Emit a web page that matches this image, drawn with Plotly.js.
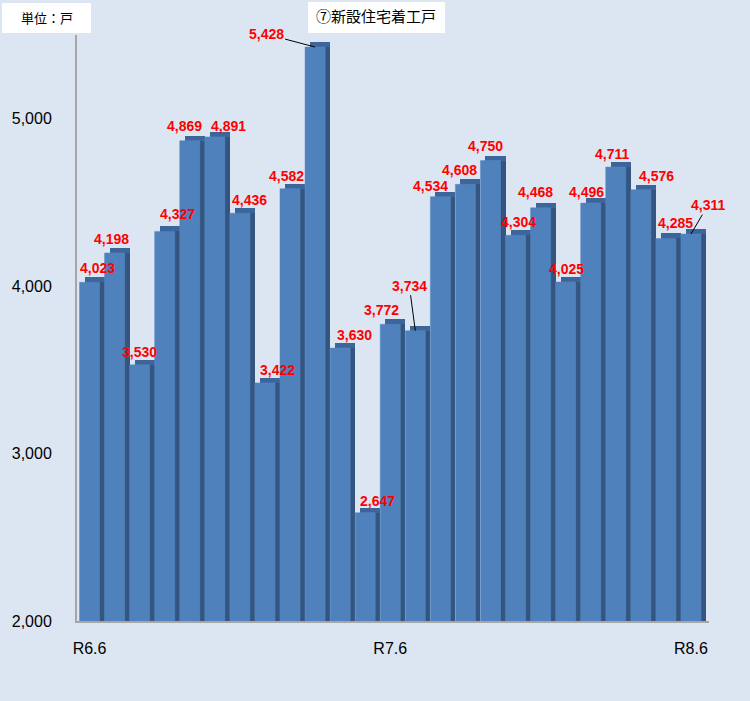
<!DOCTYPE html>
<html>
<head>
<meta charset="utf-8">
<script src="https://cdn.plot.ly/plotly-3.0.1.min.js"></script>
<style>
  html, body { margin: 0; padding: 0; background: #DCE6F2; }
  #chart { width: 750px; height: 701px; outline: 2px solid #8C8C8C; outline-offset: -2px; }
</style>
</head>
<body>
<div id="chart"></div>
<script>
// ---- data ----
const months = [
  "R6.6","R6.7","R6.8","R6.9","R6.10","R6.11","R6.12",
  "R7.1","R7.2","R7.3","R7.4","R7.5","R7.6","R7.7","R7.8","R7.9","R7.10","R7.11","R7.12",
  "R8.1","R8.2","R8.3","R8.4","R8.5","R8.6"
];
const starts = [
  4023, 4198, 3530, 4327, 4869, 4891, 4436,
  3422, 4582, 5428, 3630, 2647, 3772, 3734, 4534, 4608, 4750, 4304, 4468,
  4025, 4496, 4711, 4576, 4285, 4311
];
const shownTicks = ["R6.6", "R7.6", "R8.6"];
const chartTitle = "⑦新設住宅着工戸";
const unitLabel = "単位：戸";

// ---- styling (label placement, in pixels) ----
const labelDX = [8,-3,0,13,-5,14,10,13,-4,-49,14,12,-9,-6,-10,-6,-5,3,-5,1,-4,-4,16,10,17];
const labelDY = [-14,-14,-13,-17,-15,-11,-13,-13,-13,-13,-13,-12,-14,-45,-11,-14,-15,-13,-16,-13,-11,-13,-14,-15,-29];
const leader = [9, 13, 24];   // indices of labels drawn with a leader line

const DEPTH = 30;            // 3D depth in axis units (~5px)
const fmt = v => v.toLocaleString('en-US');

const sideTrace = {
  type: 'bar', x: months, y: starts, base: DEPTH,
  offset: -0.2, width: 0.8,
  marker: { color: '#33557F' }, hoverinfo: 'skip', showlegend: false
};
const topTrace = {
  type: 'bar', x: months, y: starts.map(() => DEPTH), base: starts,
  offset: -0.2, width: 0.8,
  marker: { color: '#3C659C' }, hoverinfo: 'skip', showlegend: false
};
const frontTrace = {
  type: 'bar', x: months, y: starts,
  offset: -0.4, width: 0.8,
  marker: { color: '#4F81BD', line: { color: '#5A8AC4', width: 0.5 } },
  hoverinfo: 'skip', showlegend: false
};

const annotations = starts.map((v, i) => {
  const a = {
    x: months[i], y: v, xref: 'x', yref: 'y',
    text: fmt(v),
    font: { family: 'Liberation Sans, Arial, sans-serif', size: 14, color: '#FF0000', weight: 'bold' }
  };
  if (leader.includes(i)) {
    a.showarrow = true; a.arrowhead = 0; a.arrowwidth = 1; a.arrowcolor = '#000000';
    a.ax = labelDX[i]; a.ay = labelDY[i];
  } else {
    a.showarrow = false; a.xshift = labelDX[i]; a.yshift = -labelDY[i];
    a.xanchor = 'center'; a.yanchor = 'middle';
  }
  return a;
});

annotations.push({
  text: unitLabel, xref: 'paper', yref: 'paper', x: -0.0475, y: 1.030,
  xanchor: 'center', yanchor: 'middle', showarrow: false,
  font: { family: 'Noto Sans CJK JP, sans-serif', size: 13, color: '#000000' }
});

const layout = {
  width: 750, height: 701,
  margin: { l: 77, r: 41, t: 35, b: 80 },
  paper_bgcolor: '#DCE6F2', plot_bgcolor: '#DCE6F2',
  barmode: 'overlay', bargap: 0,
  title: {
    text: chartTitle, xref: 'container', yref: 'container',
    x: 0.5013, y: 0.976, xanchor: 'center', yanchor: 'middle',
    font: { family: 'Noto Sans CJK JP, sans-serif', size: 15, color: '#000000' }
  },
  xaxis: {
    type: 'category', categoryorder: 'array', categoryarray: months,
    range: [-0.5, 24.72],
    tickmode: 'array', tickvals: shownTicks, ticktext: shownTicks,
    ticks: '', ticklabelstandoff: 12,
    tickfont: { family: 'Liberation Sans, Arial, sans-serif', size: 16, color: '#000000' },
    showline: true, linecolor: '#A6A6A6', linewidth: 2,
    showgrid: false, zeroline: false, fixedrange: true
  },
  yaxis: {
    range: [2000, 5500],
    tickmode: 'array', tickvals: [2000, 3000, 4000, 5000],
    tickformat: ',d', ticks: '', ticklabelstandoff: 20,
    tickfont: { family: 'Liberation Sans, Arial, sans-serif', size: 16, color: '#000000' },
    showline: true, linecolor: '#A6A6A6', linewidth: 2,
    showgrid: false, zeroline: false, fixedrange: true
  },
  shapes: [
    { type: 'rect', xref: 'paper', yref: 'paper', x0: 0.3655, x1: 0.5823, y0: 1.0034, y1: 1.0563,
      fillcolor: '#FFFFFF', line: { width: 0 }, layer: 'above' },
    { type: 'rect', xref: 'paper', yref: 'paper', x0: -0.1187, x1: 0.02215, y0: 1.0034, y1: 1.0546,
      fillcolor: '#FFFFFF', line: { width: 0 }, layer: 'above' }
  ],
  annotations: annotations
};

Plotly.newPlot('chart', [sideTrace, topTrace, frontTrace], layout, { staticPlot: true, displayModeBar: false });
</script>
</body>
</html>
